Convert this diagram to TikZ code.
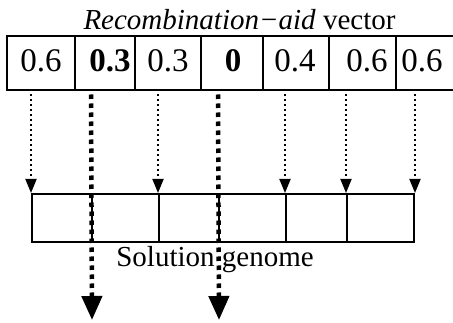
\documentclass[tikz,border=0pt]{standalone}
\usepackage{fontspec}
\setmainfont{Liberation Serif}
\usetikzlibrary{arrows.meta}
\begin{document}
\begin{tikzpicture}[x=1pt,y=-1pt,
  cell/.style={draw, line width=2pt, inner sep=0pt, minimum height=54pt},
  gcell/.style={draw, line width=2pt, inner sep=0pt, minimum height=48pt},
  num/.style={font=\fontsize{33}{33}\selectfont, anchor=base, inner sep=0pt},
  lbl/.style={font=\fontsize{29}{29}\selectfont, anchor=base, inner sep=0pt},
  thinarrow/.style={line width=1.8pt, dash pattern=on 1.8pt off 3.2pt, shorten <=3pt, -{Triangle[width=11pt,length=14pt]}},
  thickarrow/.style={line width=4.5pt, dash pattern=on 4.5pt off 4.5pt, shorten <=3pt, -{Triangle[width=20pt,length=24pt]}}]
\useasboundingbox (0,0) rectangle (453,323);
% title
\node[lbl] (title) at (239.5,30) {\textit{Recombination−aid} vector};
% top vector cells
\node[cell, minimum width=68pt] (v1) at (41,63.5) {};
\node[cell, minimum width=60pt] (v2) at (105,63.5) {};
\node[cell, minimum width=66pt] (v3) at (168,63.5) {};
\node[cell, minimum width=62pt] (v4) at (232,63.5) {};
\node[cell, minimum width=66pt] (v5) at (296,63.5) {};
\node[cell, minimum width=67pt] (v6) at (362.5,63.5) {};
\node[cell, minimum width=64pt] (v7) at (428,63.5) {};
% numbers
\node[num] (n1) at (41,72) {0.6};
\node[num] (n2) at (110,72) {\textbf{0.3}};
\node[num] (n3) at (168,72) {0.3};
\node[num] (n4) at (233,72) {\textbf{0}};
\node[num] (n5) at (295,72) {0.4};
\node[num] (n6) at (367,72) {0.6};
\node[num] (n7) at (422,72) {0.6};
% solution genome cells
\node[gcell, minimum width=60pt] (g1) at (62,218) {};
\node[gcell, minimum width=67pt] (g2) at (125.5,218) {};
\node[gcell, minimum width=60pt] (g3) at (189,218) {};
\node[gcell, minimum width=67pt] (g4) at (252.5,218) {};
\node[gcell, minimum width=61pt] (g5) at (316.5,218) {};
\node[gcell, minimum width=67pt] (g6) at (380.5,218) {};
\node[lbl] (sg) at (215,267) {Solution genome};
% thin arrows
\draw[thinarrow] (g1.north west |- v1.south) -- (g1.north west);
\draw[thinarrow] (g3.north west |- v3.south) -- (g3.north west);
\draw[thinarrow] (g5.north west |- v5.south) -- (g5.north west);
\draw[thinarrow] (g6.north west |- v6.south) -- (g6.north west);
\draw[thinarrow] (g6.north east |- v7.south) -- (g6.north east);
% thick arrows
\coordinate (e1) at (92,320);
\coordinate (e2) at (219,320);
\draw[thickarrow] (g2.north west |- v2.south) -- (e1);
\draw[thickarrow] (g4.north west |- v4.south) -- (e2);
\end{tikzpicture}
\end{document}
